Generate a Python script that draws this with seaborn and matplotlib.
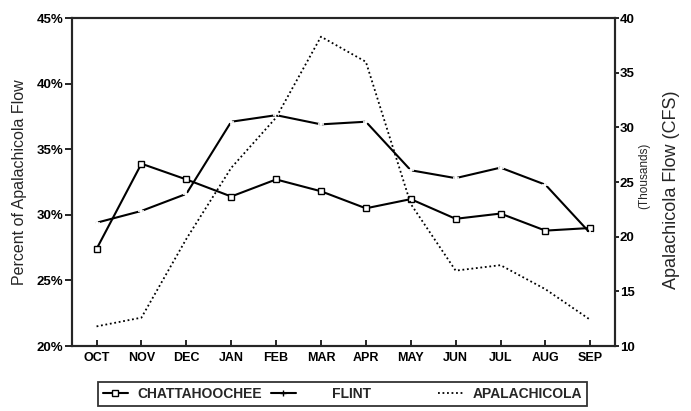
import pandas as pd
import seaborn as sns
import matplotlib.pyplot as plt
from matplotlib.lines import Line2D

# Monthly values (water year Oct-Sep)
months = ['OCT', 'NOV', 'DEC', 'JAN', 'FEB', 'MAR',
          'APR', 'MAY', 'JUN', 'JUL', 'AUG', 'SEP']
chattahoochee = [27.4, 33.9, 32.7, 31.4, 32.7, 31.8,
                 30.5, 31.2, 29.7, 30.1, 28.8, 29.0]
flint = [29.4, 30.3, 31.6, 37.1, 37.6, 36.9,
         37.1, 33.4, 32.8, 33.6, 32.3, 28.6]
apalachicola = [11.8, 12.6, 19.8, 26.3, 30.9, 38.3,
                36.0, 23.0, 16.9, 17.4, 15.2, 12.4]

df = pd.DataFrame({'pos': range(len(months)), 'Month': months,
                   'Chattahoochee': chattahoochee, 'Flint': flint,
                   'Apalachicola': apalachicola})

sns.set_style("ticks")
plt.rcParams['font.family'] = ['Liberation Sans', 'DejaVu Sans']

fig, ax = plt.subplots(figsize=(6.91, 4.11), dpi=100)
fig.subplots_adjust(left=0.104, right=0.890, top=0.956, bottom=0.158)
ax2 = ax.twinx()

# percent-of-flow series on the left axis
sns.lineplot(data=df, x='pos', y='Chattahoochee', ax=ax, color='black', lw=1.5,
             marker='s', markersize=5, markerfacecolor='white',
             markeredgecolor='black', markeredgewidth=1.0)
sns.lineplot(data=df, x='pos', y='Flint', ax=ax, color='black', lw=1.5,
             marker='+', markersize=5, markeredgewidth=1.2)
# total flow on the right axis
sns.lineplot(data=df, x='pos', y='Apalachicola', ax=ax2, color='black',
             lw=1.3, linestyle=(0, (1, 1.5)))

ax.set_xlim(-0.55, 11.55)
ax.set_ylim(20, 45)
ax.set_yticks([20, 25, 30, 35, 40, 45])
ax.set_yticklabels([f'{v}%' for v in [20, 25, 30, 35, 40, 45]])
ax.set_xticks(df['pos'])
ax.set_xticklabels(months)
ax2.set_ylim(10, 40)
ax2.set_yticks([10, 15, 20, 25, 30, 35, 40])

for a in (ax, ax2):
    for s in a.spines.values():
        s.set_linewidth(1.5)
        s.set_visible(True)
    a.tick_params(labelsize=9.5, width=1.2, colors='black')
    for lab in a.get_yticklabels() + a.get_xticklabels():
        lab.set_fontweight('bold')
ax.tick_params(axis='x', direction='in', length=4, pad=4, labelsize=9)
ax.tick_params(axis='y', direction='out', length=5, pad=1)
ax2.tick_params(axis='y', direction='out', length=3, pad=0.5)

ax.set_xlabel('')
ax.set_ylabel('Percent of Apalachicola Flow', fontsize=11.5, labelpad=7)
ax2.set_ylabel('')
fig.text(0.933, 0.572, '(Thousands)', rotation=90, fontsize=8.5,
         ha='center', va='center')
fig.text(0.972, 0.538, 'Apalachicola Flow (CFS)', rotation=90, fontsize=13,
         ha='center', va='center')

handles = [
    Line2D([], [], color='black', lw=1.5, marker='s', markersize=5,
           markerfacecolor='white', markeredgecolor='black'),
    Line2D([], [], color='black', lw=1.5, marker='+', markersize=5),
    Line2D([], [], color='black', lw=1.3, linestyle=(0, (1, 1.5))),
]
labels = ['CHATTAHOOCHEE', '       FLINT               ', 'APALACHICOLA']
leg = fig.legend(handles, labels, ncol=3, loc='lower left',
                 bbox_to_anchor=(0.142, 0.012),
                 frameon=True, fancybox=False, fontsize=10,
                 handlelength=1.8, handletextpad=0.7, columnspacing=0.6,
                 borderpad=0.35, borderaxespad=0)
leg.get_frame().set_edgecolor('black')
leg.get_frame().set_linewidth(1.3)
for t in leg.get_texts():
    t.set_fontweight('bold')

plt.savefig("out.png", dpi=100)
